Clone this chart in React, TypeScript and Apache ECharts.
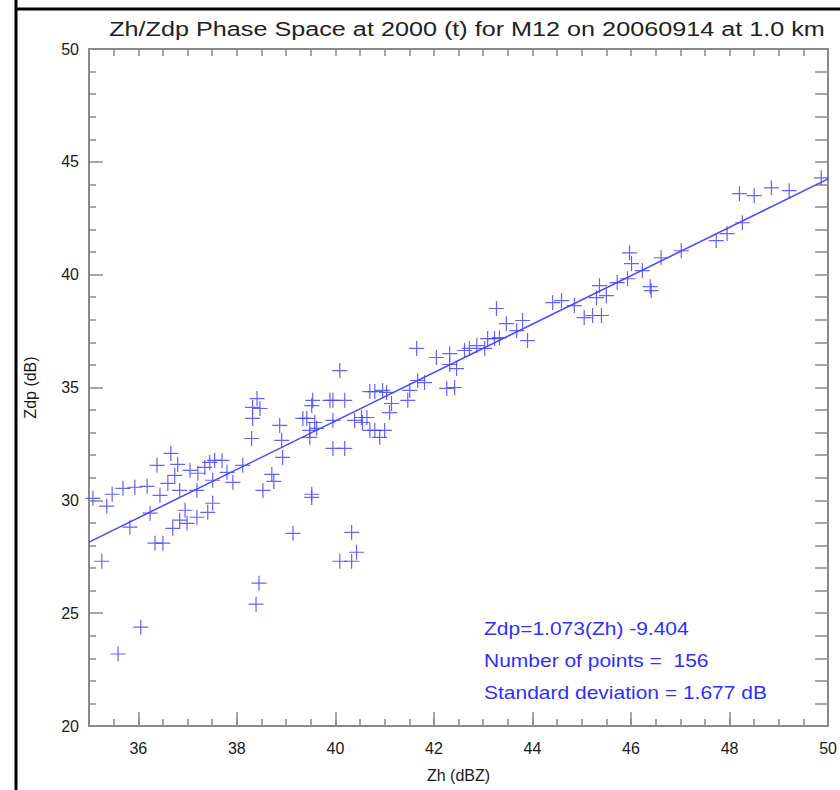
import React, { useEffect, useRef } from "react";
import * as echarts from "echarts";

// Scatter points: Zh (dBZ) and Zdp (dB)
const zh = [
  35.08, 35.26, 35.36, 35.47, 35.59, 35.69, 35.93, 36.05, 36.18, 35.83,
  36.24, 36.38, 36.34, 36.5, 36.44, 36.6, 36.66, 36.74, 36.8, 36.7,
  36.84, 36.84, 36.95, 36.99, 37.05, 37.19, 37.19, 37.21, 37.35, 37.41,
  37.51, 37.45, 37.55, 37.51, 37.7, 37.8, 37.92, 38.12, 38.41, 38.32,
  38.47, 38.32, 38.3, 38.87, 38.91, 38.93, 38.71, 38.75, 38.53, 38.45,
  38.39, 39.14, 40.09, 40.33, 40.43, 40.33, 39.52, 39.52, 39.54, 39.52,
  39.89, 39.95, 40.19, 39.34, 39.42, 39.58, 39.48, 39.62, 39.48, 39.95,
  39.95, 40.19, 40.09, 40.39, 40.53, 40.64, 40.55, 40.7, 40.8, 41.0,
  40.9, 40.7, 40.8, 40.96, 41.04, 41.14, 41.1, 41.51, 41.47, 41.67,
  41.81, 41.65, 42.05, 42.32, 42.32, 42.46, 42.26, 42.42, 42.62, 42.72,
  42.87, 43.03, 43.09, 43.23, 43.33, 43.27, 43.47, 43.8, 43.68, 43.9,
  44.41, 44.59, 44.85, 45.05, 45.22, 45.4, 45.36, 45.5, 45.3, 45.72,
  45.93, 45.97, 46.01, 46.23, 46.41, 46.39, 46.61, 47.02, 47.73, 47.95,
  48.26, 48.2, 48.5, 48.85, 49.21, 49.86,
];
const zdp = [
  30.09, 27.3, 29.74, 30.27, 23.19, 30.53, 30.58, 24.38, 30.62, 28.81,
  29.43, 31.55, 28.1, 28.1, 30.22, 30.75, 32.08, 31.11, 31.59, 28.76,
  29.12, 30.44, 29.56, 28.98, 31.33, 29.25, 30.44, 31.2, 31.46, 29.47,
  29.87, 31.68, 31.77, 30.89, 31.77, 31.24, 30.8, 31.55, 34.51, 34.12,
  34.07, 33.63, 32.74, 33.32, 32.66, 31.9, 31.15, 30.84, 30.44, 26.33,
  25.4, 28.54, 27.3, 27.3, 27.7, 28.58, 30.27, 30.13, 34.43, 34.2,
  34.43, 34.43, 34.43, 33.63, 33.63, 33.45, 33.1, 33.19, 32.79, 33.54,
  32.3, 32.3, 35.75, 33.54, 33.67, 33.67, 33.45, 33.1, 33.1, 33.1,
  32.79, 34.82, 34.82, 34.87, 34.78, 34.29, 33.89, 34.87, 34.43, 35.31,
  35.22, 36.73, 36.33, 36.5, 36.02, 35.84, 34.96, 35.0, 36.64, 36.73,
  36.86, 36.73, 37.17, 37.17, 37.21, 38.5, 37.83, 37.97, 37.52, 37.08,
  38.76, 38.85, 38.63, 38.1, 38.19, 38.19, 39.51, 39.07, 38.98, 39.65,
  39.82, 40.97, 40.49, 40.18, 39.29, 39.47, 40.75, 41.06, 41.51, 41.82,
  42.3, 43.59, 43.5, 43.85, 43.72, 44.29,
];

// Least-squares fit shown on the chart
const fitSlope = 1.073;
const fitIntercept = -9.404;
const fitRange = [35, 50];

const xMajorTicks = [36, 38, 40, 42, 44, 46, 48, 50];
const titleText = "Zh/Zdp Phase Space at 2000 (t) for M12 on 20060914 at 1.0 km";
const xName = "Zh (dBZ)";
const yName = "Zdp (dB)";
const statLines = [
  "Zdp=1.073(Zh) -9.404",
  "Number of points =  156",
  "Standard deviation = 1.677 dB",
];

const FONT = "'Liberation Sans', Arial, Helvetica, sans-serif";
const BLUE = "#4646ff";
const AXIS_GRAY = "#8a8a8a";
const LABEL = "#1a1a1a";

export default function App() {
  const ref = useRef<HTMLDivElement>(null);
  useEffect(() => {
    if (!ref.current) return;
    const chart = echarts.init(ref.current, null, { renderer: "svg" });
    const points = zh.map((x, i) => [x, zdp[i]]);
    const fitLine = fitRange.map((x) => [x, fitSlope * x + fitIntercept]);

    const baseX = {
      type: "value" as const,
      min: 35,
      max: 50,
      splitLine: { show: false },
    };
    const baseY = {
      type: "value" as const,
      min: 20,
      max: 50,
      interval: 5,
      splitLine: { show: false },
    };

    chart.setOption({
      animation: false,
      backgroundColor: "#ffffff",
      grid: { left: 89, right: 11, top: 49, bottom: 64, containLabel: false },
      xAxis: [
        {
          ...baseX,
          position: "bottom",
          axisLine: { show: true, lineStyle: { color: AXIS_GRAY, width: 2 } },
          axisTick: {
            show: true,
            inside: true,
            length: 14,
            customValues: xMajorTicks,
            lineStyle: { color: AXIS_GRAY, width: 1.5 },
          },
          axisLabel: {
            customValues: xMajorTicks,
            margin: 14,
            fontFamily: FONT,
            fontSize: 16,
            color: LABEL,
          },
          name: xName,
          nameLocation: "middle",
          nameGap: 41,
          nameTextStyle: { fontFamily: FONT, fontSize: 16, color: LABEL },
        },
        {
          ...baseX,
          position: "bottom",
          interval: 0.5,
          axisLine: { show: false },
          axisTick: { show: true, inside: true, length: 7, lineStyle: { color: AXIS_GRAY, width: 1.5 } },
          axisLabel: { show: false },
        },
        {
          ...baseX,
          position: "top",
          interval: 0.5,
          axisLine: { show: true, lineStyle: { color: AXIS_GRAY, width: 2 } },
          axisTick: { show: true, inside: true, length: 7, lineStyle: { color: AXIS_GRAY, width: 1.5 } },
          axisLabel: { show: false },
        },
      ],
      yAxis: [
        {
          ...baseY,
          position: "left",
          axisLine: { show: true, lineStyle: { color: AXIS_GRAY, width: 2 } },
          axisTick: { show: true, inside: true, length: 14, lineStyle: { color: AXIS_GRAY, width: 1.5 } },
          minorTick: { show: true, splitNumber: 5, length: 7, lineStyle: { color: AXIS_GRAY, width: 1.5 } },
          axisLabel: { margin: 10, fontFamily: FONT, fontSize: 16, color: LABEL },
          name: yName,
          nameLocation: "middle",
          nameRotate: 90,
          nameGap: 51,
          nameTextStyle: { fontFamily: FONT, fontSize: 16, color: LABEL },
        },
        {
          ...baseY,
          position: "right",
          axisLine: { show: true, lineStyle: { color: AXIS_GRAY, width: 2 } },
          axisTick: { show: true, inside: true, length: 13, lineStyle: { color: AXIS_GRAY, width: 1.5 } },
          minorTick: { show: true, splitNumber: 5, length: 13, lineStyle: { color: AXIS_GRAY, width: 1.5 } },
          axisLabel: { show: false },
        },
      ],
      series: [
        {
          type: "line",
          xAxisIndex: 0,
          yAxisIndex: 0,
          data: fitLine,
          showSymbol: false,
          symbol: "none",
          lineStyle: { color: BLUE, width: 1.5 },
          silent: true,
          z: 3,
        },
        {
          type: "scatter",
          xAxisIndex: 0,
          yAxisIndex: 0,
          data: points,
          symbol: "path://M7,0L7,14M0,7L14,7",
          symbolSize: 15,
          itemStyle: { color: "rgba(0,0,0,0)", borderColor: BLUE, borderWidth: 1.2, opacity: 0.85 },
          silent: true,
          z: 4,
        },
      ],
      graphic: [
        { type: "line", shape: { x1: 16, y1: 0, x2: 16, y2: 790 }, style: { stroke: "#000", lineWidth: 3 } },
        { type: "line", shape: { x1: 16, y1: 9, x2: 840, y2: 9 }, style: { stroke: "#000", lineWidth: 3 } },
        {
          type: "text",
          x: 467,
          y: 29,
          scaleX: 1.2,
          style: {
            text: titleText,
            textAlign: "center",
            textVerticalAlign: "middle",
            fontFamily: FONT,
            fontSize: 21,
            fill: "#222",
          },
        },
        ...statLines.map((t, i) => ({
          type: "text",
          x: 484,
          y: 629 + i * 32,
          scaleX: 1.2,
          style: {
            text: t,
            textAlign: "left",
            textVerticalAlign: "middle",
            fontFamily: FONT,
            fontSize: 17.5,
            fill: "#2f2fff",
          },
        })),
      ],
    });
    return () => chart.dispose();
  }, []);
  return (
    <div
      ref={ref}
      style={{ position: "absolute", left: 0, top: 0, width: 840, height: 790, background: "#fff" }}
    />
  );
}
